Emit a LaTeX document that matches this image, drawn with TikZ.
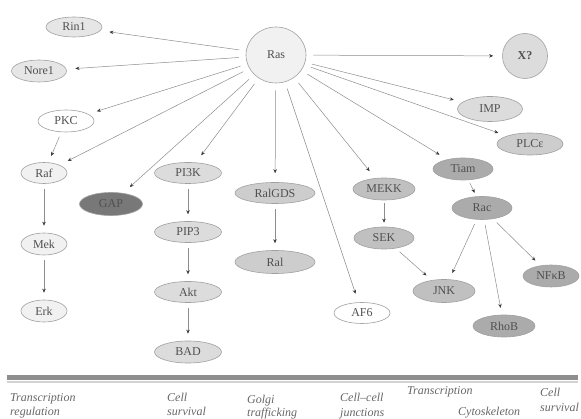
\documentclass[tikz,border=0pt]{standalone}
\usepackage{fontspec}
\setmainfont{Liberation Serif}
\usetikzlibrary{shapes.geometric,arrows.meta}
\definecolor{edgec}{HTML}{8C8C8C}
\definecolor{tipc}{HTML}{3C3C3C}
\definecolor{bordc}{HTML}{A0A0A0}
\definecolor{txtc}{HTML}{505050}
\definecolor{labc}{HTML}{666666}
\definecolor{fA}{HTML}{F1F1F1}
\definecolor{fB}{HTML}{E6E6E6}
\definecolor{fC}{HTML}{DCDCDC}
\definecolor{fD}{HTML}{CDCDCD}
\definecolor{fE}{HTML}{C0C0C0}
\definecolor{fF}{HTML}{ABABAB}
\definecolor{fG}{HTML}{787878}
\definecolor{ruleA}{HTML}{8E8E8E}
\definecolor{ruleB}{HTML}{D2D2D2}
\begin{document}
\begin{tikzpicture}[x=1pt,y=-1pt,
  ell/.style={ellipse, draw=bordc, line width=0.6pt, inner sep=0pt, minimum height=21pt, text=txtc, font=\fontsize{12}{12}\selectfont},
  arr/.style={draw=edgec, line width=0.5pt, -{Stealth[length=4pt,width=3.5pt,color=tipc]}, shorten >=7pt, shorten <=5pt},
  rarr/.style={arr, shorten >=9pt, shorten <=7pt},
  sarr/.style={arr, shorten >=4pt, shorten <=3pt},
  lab/.style={anchor=base west, inner sep=0pt, text=labc, font=\fontsize{12}{14}\selectfont\itshape}]
\useasboundingbox (0,0) rectangle (581,419);
% nodes
\node[ell, fill=fA, minimum width=60pt, minimum height=56pt] (ras) at (276,55) {Ras};
\node[ell, fill=fC, minimum width=45pt, minimum height=45pt] (x) at (525,56) {\textbf{X?}};
\node[ell, fill=fB, minimum width=56pt, minimum height=20pt] (rin1) at (74,27) {Rin1};
\node[ell, fill=fB, minimum width=55pt, minimum height=22pt] (nore1) at (39,71) {Nore1};
\node[ell, fill=white, minimum width=56pt, minimum height=22pt] (pkc) at (66,121) {PKC};
\node[ell, fill=fA, minimum width=46pt] (raf) at (44,173) {Raf};
\node[ell, fill=fA, minimum width=46pt, minimum height=22pt] (mek) at (44,244) {Mek};
\node[ell, fill=fA, minimum width=46pt, minimum height=22pt] (erk) at (44,311) {Erk};
\node[ell, fill=fG, minimum width=63pt, minimum height=23pt] (gap) at (111,204) {GAP};
\node[ell, fill=fC, minimum width=67pt] (pi3k) at (188,173) {PI3K};
\node[ell, fill=fC, minimum width=67pt] (pip3) at (188,232) {PIP3};
\node[ell, fill=fC, minimum width=67pt] (akt) at (188,292) {Akt};
\node[ell, fill=fC, minimum width=67pt, minimum height=22pt] (bad) at (188,352) {BAD};
\node[ell, fill=fD, minimum width=80pt] (ralgds) at (275,193) {RalGDS};
\node[ell, fill=fD, minimum width=80pt, minimum height=23pt] (ral) at (275,262) {Ral};
\node[ell, fill=fE, minimum width=62pt, minimum height=22pt] (mekk) at (384,189) {MEKK};
\node[ell, fill=fE, minimum width=60pt, minimum height=22pt] (sek) at (384,238) {SEK};
\node[ell, fill=fE, minimum width=62pt, minimum height=23pt] (jnk) at (444,291) {JNK};
\node[ell, fill=white, minimum width=56pt] (af6) at (362,313) {AF6};
\node[ell, fill=fF, minimum width=60pt, minimum height=22pt] (tiam) at (463,169) {Tiam};
\node[ell, fill=fF, minimum width=60pt, minimum height=23pt] (rac) at (482,208) {Rac};
\node[ell, fill=fF, minimum width=56pt, minimum height=22pt] (nfkb) at (551,276) {NFκB};
\node[ell, fill=fF, minimum width=62pt, minimum height=22pt] (rhob) at (504,326) {RhoB};
\node[ell, fill=fC, minimum width=65pt, minimum height=25pt] (imp) at (490,109) {IMP};
\node[ell, fill=fD, minimum width=66pt, minimum height=22pt] (plc) at (530,144) {PLCε};
% edges from Ras
\foreach \t in {rin1,nore1,pkc,raf,gap,pi3k,ralgds,af6,mekk,tiam,plc,imp,x}
  \draw[rarr] (ras) -- (\t);
% cascades
\draw[arr] (pkc) -- (raf);
\draw[arr] (raf) -- (mek);
\draw[arr] (mek) -- (erk);
\draw[arr] (pi3k) -- (pip3);
\draw[arr] (pip3) -- (akt);
\draw[arr] (akt) -- (bad);
\draw[arr] (ralgds) -- (ral);
\draw[sarr] (mekk) -- (sek);
\draw[arr] (sek) -- (jnk);
\draw[sarr] (tiam) -- (rac);
\draw[arr] (rac) -- (jnk);
\draw[arr] (rac) -- (rhob);
\draw[arr] (rac) -- (nfkb);
% rule
\coordinate (rl) at (7,377.5);
\coordinate (rr) at (578,377.5);
\draw[ruleA, line width=4.5pt] (rl) -- (rr);
\draw[ruleB, line width=2pt] ([yshift=-4.5pt]rl) -- ([yshift=-4.5pt]rr);
% labels
\node[lab] (l1a) at (10,402) {Transcription};
\node[lab] (l1b) at (10,416) {regulation};
\node[lab] (l2a) at (167,402) {Cell};
\node[lab] (l2b) at (167,416) {survival};
\node[lab] (l3a) at (247,403) {Golgi};
\node[lab] (l3b) at (247,417) {trafficking};
\node[lab] (l4a) at (340,402) {Cell--cell};
\node[lab] (l4b) at (340,417) {junctions};
\node[lab] (l5) at (407,395) {Transcription};
\node[lab] (l6) at (458,416) {Cytoskeleton};
\node[lab] (l7a) at (540,396) {Cell};
\node[lab] (l7b) at (540,411) {survival};
\end{tikzpicture}
\end{document}
